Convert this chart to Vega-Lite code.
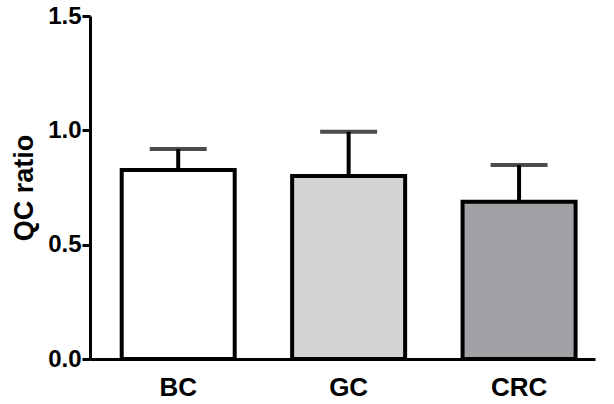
{
  "$schema": "https://vega.github.io/schema/vega-lite/v6.json",
  "width": 505,
  "height": 343,
  "padding": {"left": 90, "top": 16, "right": 19, "bottom": 45},
  "autosize": {"type": "none"},
  "background": "white",
  "config": {
    "view": {"stroke": null},
    "font": "Liberation Sans"
  },
  "data": {
    "values": [
      {"group": "BC", "value": 0.826, "upper": 0.918, "fill": "#ffffff"},
      {"group": "GC", "value": 0.80, "upper": 0.994, "fill": "#d4d4d4"},
      {"group": "CRC", "value": 0.688, "upper": 0.848, "fill": "#a2a1a6"}
    ]
  },
  "encoding": {
    "x": {
      "field": "group",
      "type": "nominal",
      "sort": ["BC", "GC", "CRC"],
      "scale": {"paddingInner": 0.337, "paddingOuter": 0.15, "align": 0.62},
      "axis": {
        "title": null,
        "labelAngle": 0,
        "ticks": false,
        "domainColor": "black",
        "domainWidth": 3,
        "labelFont": "Liberation Sans",
        "labelFontWeight": "bold",
        "labelFontSize": 26,
        "labelColor": "black",
        "labelPadding": 15
      }
    }
  },
  "layer": [
    {
      "mark": {"type": "bar", "stroke": "black", "strokeWidth": 4},
      "encoding": {
        "y": {
          "field": "value",
          "type": "quantitative",
          "scale": {"domain": [0, 1.5], "nice": false},
          "axis": {
            "title": "QC ratio",
            "values": [0, 0.5, 1, 1.5],
            "format": ".1f",
            "grid": false,
            "domainColor": "black",
            "domainWidth": 3,
            "tickColor": "black",
            "tickWidth": 3,
            "tickSize": 8,
            "labelFont": "Liberation Sans",
            "labelFontWeight": "bold",
            "labelFontSize": 24,
            "labelColor": "black",
            "labelPadding": 1,
            "titleFont": "Liberation Sans",
            "titleFontWeight": "bold",
            "titleFontSize": 27,
            "titleColor": "black",
            "titlePadding": 9
          }
        },
        "fill": {"field": "fill", "type": "nominal", "scale": null}
      }
    },
    {
      "mark": {"type": "rule", "color": "black", "strokeWidth": 4},
      "encoding": {
        "y": {"field": "value", "type": "quantitative"},
        "y2": {"field": "upper"}
      }
    },
    {
      "mark": {"type": "tick", "color": "black", "thickness": 4, "size": 57, "orient": "horizontal"},
      "encoding": {
        "y": {"field": "upper", "type": "quantitative"}
      }
    }
  ]
}
